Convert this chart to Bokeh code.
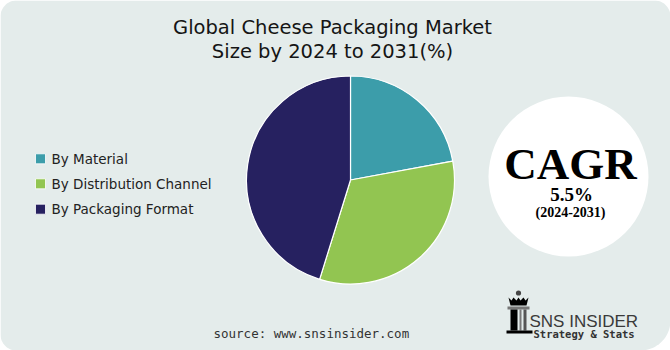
import numpy as np
from bokeh.plotting import figure
from bokeh.models import Range1d
from bokeh.core.properties import value
from bokeh.embed import file_html
from bokeh.resources import INLINE

# ---- data ----
title_lines = ["Global Cheese Packaging Market", "Size by 2024 to 2031(%)"]
categories = ["By Material", "By Distribution Channel", "By Packaging Format"]
shares = [22.1, 32.7, 45.2]
colors = ["#3C9DAA", "#92C551", "#262160"]
cagr_label = "CAGR"
cagr_value = "5.5%"
cagr_period = "(2024-2031)"
source_text = "source: www.snsinsider.com"
brand = "SNS INSIDER"
brand_sub = "Strategy & Stats"

W, H = 670, 350
BG = "#E4ECEB"

p = figure(width=W, height=H, output_backend="svg", toolbar_location=None,
           x_range=Range1d(0, W), y_range=Range1d(0, H),
           min_border=0, border_fill_color="white", background_fill_color="white",
           outline_line_color=None)
p.axis.visible = False
p.grid.visible = False


def rounded_rect(x0, y0, x1, y1, r_tl, r_tr, r_br, r_bl, n=20):
    xs, ys = [], []
    def arc(cx, cy, r, a0, a1):
        t = np.linspace(a0, a1, n)
        xs.extend(cx + r * np.cos(t))
        ys.extend(cy + r * np.sin(t))
    arc(x1 - r_tr, y1 - r_tr, r_tr, 0, np.pi / 2)
    arc(x0 + r_tl, y1 - r_tl, r_tl, np.pi / 2, np.pi)
    arc(x0 + r_bl, y0 + r_bl, r_bl, np.pi, 1.5 * np.pi)
    arc(x1 - r_br, y0 + r_br, r_br, 1.5 * np.pi, 2 * np.pi)
    return xs, ys


bx, by = rounded_rect(0, 0, W, H, 16, 16, 30, 16)
p.patch(bx, by, fill_color=BG, line_color=None)

# ---- title ----
p.text(x=[332, 332], y=[H - 26.5, H - 51], text=title_lines,
       text_font=value("DejaVu Sans"), text_font_size="19.5px", text_color="#151515",
       text_align="center", text_baseline="middle")

# ---- pie ----
vals = np.array(shares, dtype=float)
frac = vals / vals.sum()
cum = np.concatenate([[0], np.cumsum(frac)])
start = np.pi / 2 - 2 * np.pi * cum[:-1]
end = np.pi / 2 - 2 * np.pi * cum[1:]
p.wedge(x=350, y=H - 179.5, radius=104, start_angle=start, end_angle=end,
        direction="clock", fill_color=colors, line_color="white", line_width=1.2)

# ---- legend ----
ly = [H - 158.3, H - 183.3, H - 208.7]
p.scatter(x=[40] * 3, y=ly, marker="square", size=10, fill_color=colors,
          line_color="white", line_width=0.8)
p.text(x=[51] * 3, y=ly, text=categories, text_font=value("DejaVu Sans"),
       text_font_size="13.5px", text_color="#222222", text_baseline="middle")

# ---- CAGR badge ----
p.circle(x=568, y=H - 176, radius=80, fill_color="white", line_color=None)
p.text(x=[570], y=[H - 163], text=[cagr_label], text_font=value("Liberation Serif"),
       text_font_style="bold", text_font_size="45px", text_color="black",
       text_align="center", text_baseline="middle")
p.text(x=[571], y=[H - 193.5], text=[cagr_value], text_font=value("Liberation Serif"),
       text_font_style="bold", text_font_size="19px", text_color="black",
       text_align="center", text_baseline="middle")
p.text(x=[570], y=[H - 212], text=[cagr_period], text_font=value("Liberation Serif"),
       text_font_style="bold", text_font_size="14px", text_color="black",
       text_align="center", text_baseline="middle")

# ---- source ----
p.text(x=[213], y=[H - 332.7], text=[source_text], text_font=value("DejaVu Sans Mono"),
       text_font_size="12.5px", text_color="#333333", text_baseline="middle")

# ---- logo ----
p.circle(x=518, y=H - 292.5, radius=2.6, fill_color="#444444", line_color=None)
crown_x = [508, 511, 513, 516, 518, 520, 523, 525, 528, 526, 510]
crown_y = [H - 297, H - 300, H - 297, H - 300, H - 297, H - 300, H - 297, H - 300, H - 297, H - 305, H - 305]
p.patch(crown_x, crown_y, fill_color="black", line_color=None)
p.quad(left=[507], right=[529], bottom=[H - 309], top=[H - 306], fill_color="#777777", line_color=None)
p.quad(left=[510, 519, 523], right=[517, 521, 526], bottom=[H - 330] * 3, top=[H - 309] * 3,
       fill_color=["black", "#777777", "#555555"], line_color=None)
p.quad(left=[506], right=[532], bottom=[H - 333], top=[H - 330], fill_color="black", line_color=None)
p.text(x=[529], y=[H - 320.5], text=[brand], text_font=value("Liberation Sans"),
       text_font_size="17px", text_color="#3a3a3a", text_baseline="middle")
p.text(x=[533], y=[H - 333.5], text=[brand_sub], text_font=value("DejaVu Sans Mono"),
       text_font_style="bold", text_font_size="10.5px", text_color="#333333",
       text_baseline="middle")

open("out.html", "w").write(file_html(p, INLINE))
